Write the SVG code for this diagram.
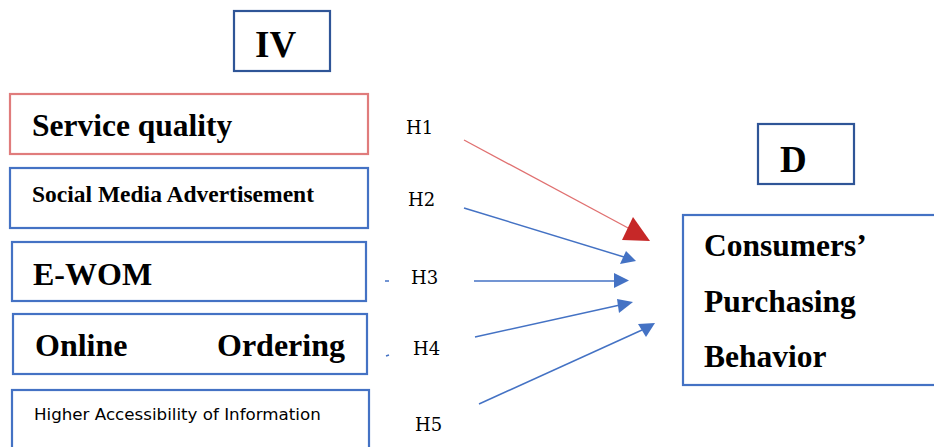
<svg xmlns="http://www.w3.org/2000/svg" width="934" height="447" viewBox="0 0 934 447">
  <style>
    .box { fill: #ffffff; stroke: #4472c4; stroke-width: 2.2; }
    .hdr { fill: #ffffff; stroke: #2f5597; stroke-width: 2.2; }
    .red { fill: #ffffff; stroke: #e07c7c; stroke-width: 2.2; }
    .t { font-family: "Liberation Serif", "Times New Roman", serif; font-weight: bold; fill: #000; }
    .s { font-family: "DejaVu Sans", "Noto Sans", sans-serif; fill: #000; }
    .h { font-family: "DejaVu Serif", "Liberation Serif", serif; font-size: 18px; fill: #000; }
    .lb { stroke: #4472c4; stroke-width: 1.5; fill: none; }
    .lr { stroke: #e07070; stroke-width: 1.3; fill: none; }
  </style>
  <rect width="934" height="447" fill="#ffffff"/>

  <g id="iv">
    <rect class="hdr" x="234" y="11" width="96" height="60"/>
    <text class="t" x="255" y="57" font-size="37">IV</text>
  </g>

  <g id="service-quality">
    <rect class="red" x="10" y="94" width="358" height="60"/>
    <text class="t" x="32" y="136" font-size="31.5">Service quality</text>
  </g>

  <g id="social-media">
    <rect class="box" x="10" y="168" width="358" height="60"/>
    <text class="t" x="32" y="202" font-size="23.5">Social Media Advertisement</text>
  </g>

  <g id="ewom">
    <rect class="box" x="12" y="242" width="354" height="59"/>
    <text class="t" x="33" y="285" font-size="32">E-WOM</text>
  </g>

  <g id="online-ordering">
    <rect class="box" x="13" y="314" width="354" height="60"/>
    <text class="t" x="35" y="356" font-size="32">Online</text>
    <text class="t" x="345" y="356" font-size="32" text-anchor="end">Ordering</text>
  </g>

  <g id="accessibility">
    <rect class="box" x="12" y="390" width="357" height="70"/>
    <text class="s" x="34" y="420" font-size="16.7">Higher Accessibility of Information</text>
  </g>

  <g id="d">
    <rect class="hdr" x="758" y="124" width="96" height="60"/>
    <text class="t" x="780" y="172" font-size="37">D</text>
  </g>

  <g id="behavior">
    <rect class="box" x="683" y="215" width="260" height="170"/>
    <text class="t" x="704" y="256" font-size="31.5">Consumers’</text>
    <text class="t" x="704" y="312" font-size="31.5">Purchasing</text>
    <text class="t" x="704" y="367" font-size="31.5">Behavior</text>
  </g>

  <g id="labels">
    <text class="h" x="406" y="134">H1</text>
    <text class="h" x="408" y="206">H2</text>
    <text class="h" x="411" y="284">H3</text>
    <text class="h" x="413" y="355">H4</text>
    <text class="h" x="415" y="431">H5</text>
  </g>

  <g id="connectors">
    <line class="lr" x1="464" y1="140" x2="630" y2="229"/>
    <polygon points="622,240 650,241 633,217" fill="#c62828"/>

    <line class="lb" x1="464" y1="208" x2="624" y2="257"/>
    <polygon points="620,264 636,261 626,251" fill="#4472c4"/>

    <line class="lb" x1="474" y1="281" x2="616" y2="281"/>
    <polygon points="614,273 629,280.5 614,288" fill="#4472c4"/>

    <line class="lb" x1="475" y1="337" x2="620" y2="305"/>
    <polygon points="619,313 633,302 617,299" fill="#4472c4"/>

    <line class="lb" x1="479" y1="404" x2="642" y2="330"/>
    <polygon points="638,324 655,323 646,337" fill="#4472c4"/>

    <line class="lb" x1="385" y1="281" x2="389" y2="281"/>
    <line class="lb" x1="386" y1="356" x2="389" y2="355"/>
  </g>
</svg>
